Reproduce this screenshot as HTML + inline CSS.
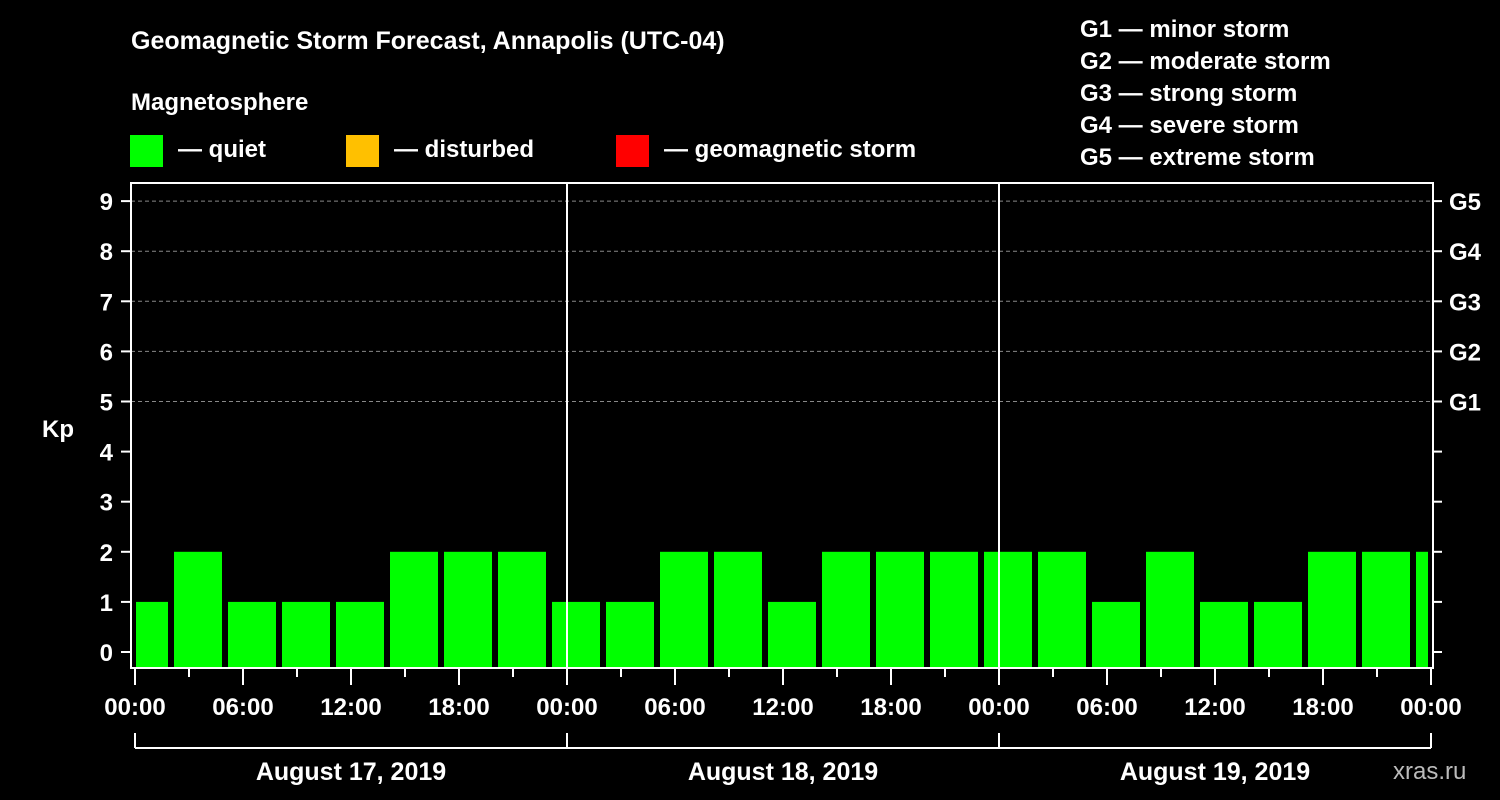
<!DOCTYPE html>
<html><head><meta charset="utf-8"><style>
html,body{margin:0;padding:0;background:#000;width:1500px;height:800px;overflow:hidden}
svg text{font-family:"Liberation Sans",Arial,sans-serif;font-weight:bold;fill:#fff}
</style></head><body>
<svg id="chart" width="1500" height="800" xmlns="http://www.w3.org/2000/svg">
<text x="131" y="49" font-size="25">Geomagnetic Storm Forecast, Annapolis (UTC-04)</text>
<text x="131" y="110" font-size="24">Magnetosphere</text>
<g>
<rect x="130" y="135" width="33" height="32" fill="#00ff00"/>
<text x="178" y="157" font-size="24">— quiet</text>
<rect x="346" y="135" width="33" height="32" fill="#ffc000"/>
<text x="394" y="157" font-size="24">— disturbed</text>
<rect x="616" y="135" width="33" height="32" fill="#ff0000"/>
<text x="664" y="157" font-size="24">— geomagnetic storm</text>
</g>
<g font-size="24">
<text x="1080" y="37">G1 — minor storm</text>
<text x="1080" y="69">G2 — moderate storm</text>
<text x="1080" y="101">G3 — strong storm</text>
<text x="1080" y="133">G4 — severe storm</text>
<text x="1080" y="165">G5 — extreme storm</text>
</g>
<text x="42" y="437" font-size="24">Kp</text>
<text x="1393" y="779" font-size="24" fill="#bbb" style="fill:#bbbbbb;font-weight:normal">xras.ru</text>
<g id="plot"></g>
</svg>
<script>
const binStartHours = [-1,2,5,8,11,14,17,20,23,26,29,32,35,38,41,44,47,50,53,56,59,62,65,68,71];
const kpValues = [1,2,1,1,1,2,2,2,1,1,2,2,1,2,2,2,2,2,1,2,1,1,2,2,2];
const yTickLabels = ["0","1","2","3","4","5","6","7","8","9"];
const gLabels = ["G1","G2","G3","G4","G5"];
const hourLabels = ["00:00","06:00","12:00","18:00","00:00","06:00","12:00","18:00","00:00","06:00","12:00","18:00","00:00"];
const dayLabels = ["August 17, 2019","August 18, 2019","August 19, 2019"];

const NS="http://www.w3.org/2000/svg";
const L=131,R=1433,T=183,B=668;
const xs=h=>135+18*h;
const ys=v=>652-50.1*v;
const g=document.getElementById('plot');
function mk(tag,attrs,parent){const e=document.createElementNS(NS,tag);for(const k in attrs)e.setAttribute(k,attrs[k]);(parent||g).appendChild(e);return e;}
function kpColor(v){return v>=5?'#ff0000':(v>=4?'#ffc000':'#00ff00');}

// grid
for(let v=5;v<=9;v++){
  const ln=mk('line',{x1:L,x2:R,y1:ys(v),y2:ys(v),stroke:'#888','stroke-dasharray':'4,3','stroke-width':1});
  
  
}
// bars
binStartHours.forEach((h,i)=>{
  let x0=Math.max(xs(h)+3,136), x1=Math.min(xs(h+3)-3,1428);
  const r=mk('rect',{x:x0,y:ys(kpValues[i]),width:x1-x0,height:B-ys(kpValues[i]),fill:kpColor(kpValues[i])});
  
  
});
// day separators
for(let d=1;d<3;d++){
  const ln=mk('line',{x1:xs(24*d),x2:xs(24*d),y1:T,y2:B,stroke:'#fff','stroke-width':2});
  
  
}
// frame
const fr=mk('rect',{x:L,y:T,width:R-L,height:B-T,fill:'none',stroke:'#fff','stroke-width':2});


// y ticks
yTickLabels.forEach((lab,i)=>{
  const y=ys(i);
  mk('line',{x1:121,x2:L,y1:y,y2:y,stroke:'#fff','stroke-width':2});
  mk('line',{x1:R,x2:1442,y1:y,y2:y,stroke:'#fff','stroke-width':2});
  const t=mk('text',{x:113,y:y+9,'font-size':24,'text-anchor':'end'});t.textContent=lab;
  
  
});
gLabels.forEach((lab,i)=>{
  const t=mk('text',{x:1449,y:ys(5+i)+9,'font-size':24});t.textContent=lab;
  
  
});
// x ticks
for(let h=0;h<=72;h+=3){
  const major=h%6===0;
  mk('line',{x1:xs(h),x2:xs(h),y1:B,y2:major?685:677,stroke:'#fff','stroke-width':2});
}
hourLabels.forEach((lab,i)=>{
  const t=mk('text',{x:xs(6*i),y:715,'font-size':24,'text-anchor':'middle'});t.textContent=lab;
  
  
});
// date bracket
mk('line',{x1:xs(0),x2:xs(72),y1:748,y2:748,stroke:'#fff','stroke-width':2});
for(let d=0;d<=3;d++) mk('line',{x1:xs(24*d),x2:xs(24*d),y1:733,y2:748,stroke:'#fff','stroke-width':2});
dayLabels.forEach((lab,i)=>{
  const t=mk('text',{x:xs(24*i+12),y:780,'font-size':25,'text-anchor':'middle'});t.textContent=lab;
  
  
});
</script>
</body></html>
